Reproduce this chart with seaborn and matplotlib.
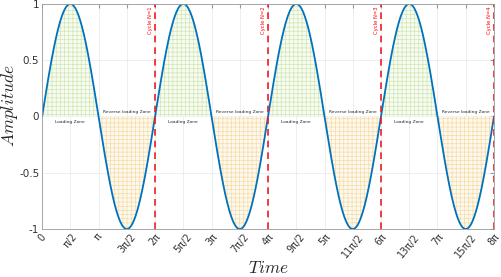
import numpy as np
import pandas as pd
import seaborn as sns
import matplotlib.pyplot as plt

# ticks (multiples of pi/2) and their labels
tick_halves = [0, 1, 2, 3, 4, 5, 6, 7, 8, 9, 10, 11, 12, 13, 14, 15, 16]
tick_labels = ['0', 'π/2', 'π', '3π/2', '2π', '5π/2', '3π', '7π/2', '4π',
               '9π/2', '5π', '11π/2', '6π', '13π/2', '7π', '15π/2', '8π']
cycle_ends = [2, 4, 6, 8]            # in units of pi
cycle_labels = ['Cycle N=1', 'Cycle N=2', 'Cycle N=3', 'Cycle N=4']
zone_labels = ['Loading Zone', 'Reverse loading Zone']
y_ticks = [-1, -0.5, 0, 0.5, 1]
y_tick_labels = ['-1', '-0.5', '0', '0.5', '1']

# the wave itself: sine over four cycles
t = np.linspace(0, 8 * np.pi, 2000)
wave = pd.DataFrame({'Time': t, 'Amplitude': np.sin(t)})

sns.set_style('white')
plt.rcParams['mathtext.fontset'] = 'cm'
plt.rcParams['hatch.linewidth'] = 0.5
fig = plt.figure(figsize=(5.01, 2.77), dpi=100)
ax = fig.add_axes([0.084, 0.173, 0.902, 0.813])

# hatched fill under the curve
y = wave['Amplitude']
ax.fill_between(t, 0, y, where=y >= 0, facecolor='#f8fbf3', edgecolor='#cfe7b0',
                hatch='++++', linewidth=0)
ax.fill_between(t, 0, y, where=y <= 0, facecolor='#fef9ef', edgecolor='#f5dba6',
                hatch='++++', linewidth=0)

sns.lineplot(data=wave, x='Time', y='Amplitude', color='#0072BD', linewidth=1.3, ax=ax)

for c, lab in zip(cycle_ends, cycle_labels):
    ax.axvline(c * np.pi, color='#ee1c25', linestyle=(0, (4, 3)), linewidth=1.2)
    ax.text(c * np.pi - 0.12, 0.98, lab, rotation=90, color='red', fontsize=3.8,
            ha='right', va='top')

for k in range(4):
    ax.text(2 * k * np.pi + np.pi / 2, -0.03, zone_labels[0], fontsize=3.2,
            ha='center', va='top')
    ax.text(2 * k * np.pi + 3 * np.pi / 2, 0.02, zone_labels[1], fontsize=3.2,
            ha='center', va='bottom')

ax.set_xlim(0, 8 * np.pi)
ax.set_ylim(-1, 1)
ax.set_xticks([h * np.pi / 2 for h in tick_halves])
ax.set_xticklabels(tick_labels, rotation=50, fontsize=7, color='#333333')
ax.set_yticks(y_ticks)
ax.set_yticklabels(y_tick_labels, fontsize=7.5, color='#333333')
ax.tick_params(direction='in', length=3, top=True, right=True, color='#999999', pad=2)
ax.grid(True, color='#ebebeb', linewidth=0.6)
for s in ax.spines.values():
    s.set_color('#999999')
    s.set_linewidth(0.6)

ax.set_xlabel('$Time$', fontsize=12.5)
ax.set_ylabel('$Amplitude$', fontsize=12.5)
ax.xaxis.set_label_coords(0.5, -0.133)
ax.yaxis.set_label_coords(-0.049, 0.55)
fig.savefig('out.png', dpi=100)
